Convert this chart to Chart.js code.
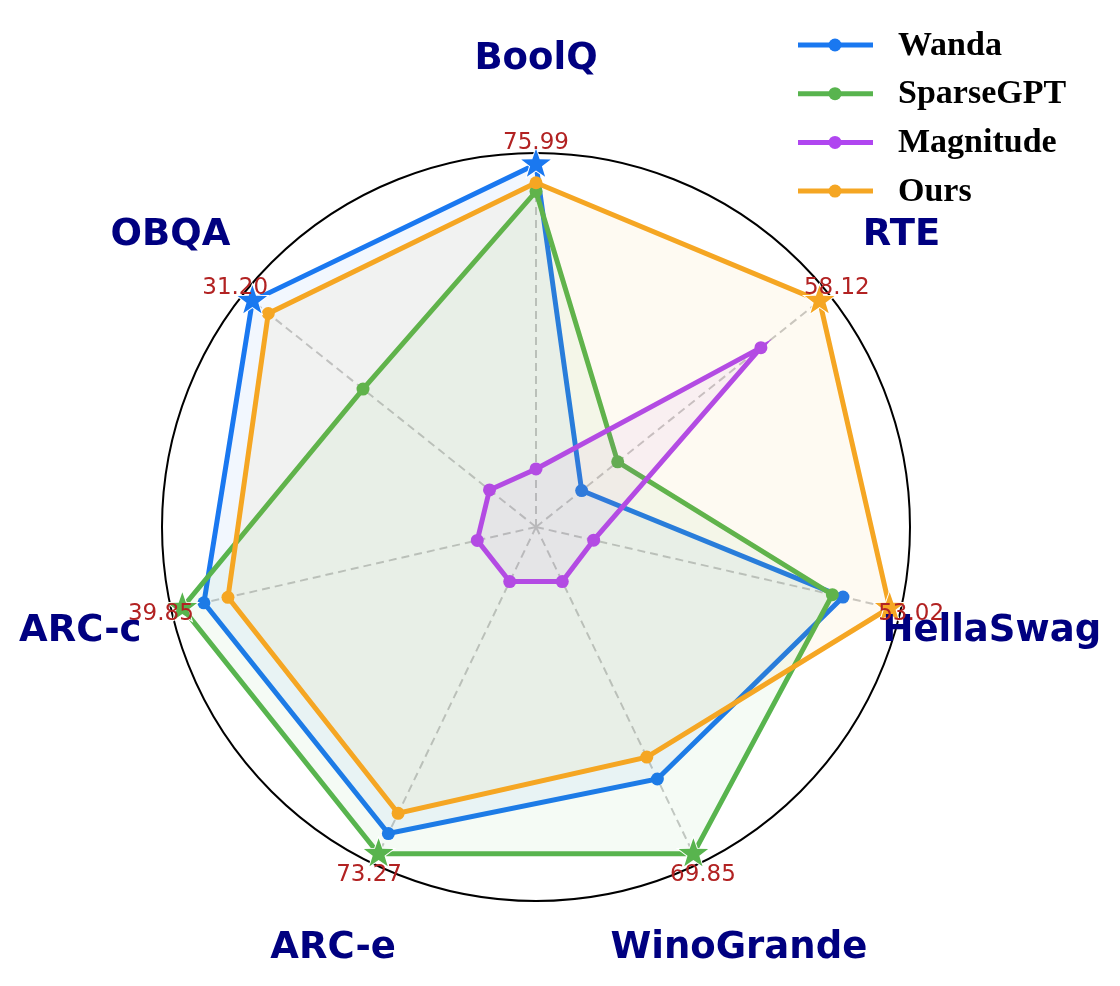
<!DOCTYPE html>
<html>
<head>
<meta charset="utf-8">
<script src="https://cdn.jsdelivr.net/npm/chart.js@4.4.0/dist/chart.umd.min.js"></script>
<style>
  html, body { margin: 0; padding: 0; background: #fff; }
  #wrap { width: 1120px; height: 986px; }
</style>
</head>
<body>
<div id="wrap"><canvas id="radarChart" width="1120" height="986"></canvas></div>
<script>
// axes, clockwise from the top
const categories = ['BoolQ', 'RTE', 'HellaSwag', 'WinoGrande', 'ARC-e', 'ARC-c', 'OBQA'];
// best score on each axis (printed next to the star)
const bestScores = ['75.99', '58.12', '53.02', '69.85', '73.27', '39.85', '31.20'];

// values normalised per axis (best = 1)
const wanda     = [1.000, 0.161, 0.868, 0.771, 0.938, 0.939, 1.000];
const sparsegpt = [0.925, 0.288, 0.838, 1.000, 1.000, 1.000, 0.610];
const magnitude = [0.160, 0.793, 0.163, 0.167, 0.167, 0.166, 0.164];
const ours      = [0.949, 1.000, 1.000, 0.704, 0.876, 0.871, 0.944];

const seriesNames  = ['Wanda', 'SparseGPT', 'Magnitude', 'Ours'];
const seriesValues = [wanda, sparsegpt, magnitude, ours];
const seriesColors = ['#1a78f0', '#58b44e', '#b046f0', '#f5a623'];

const rMax = 1.031;

function withAlpha(hex, a) {
  const n = parseInt(hex.slice(1), 16);
  return 'rgba(' + (n >> 16) + ',' + ((n >> 8) & 255) + ',' + (n & 255) + ',' + a + ')';
}

function isBest(ds, i) {
  const v = seriesValues[ds][i];
  return seriesValues.every(s => s[i] <= v);
}

function drawStar(ctx, x, y, R, color) {
  const r = R * 0.4;
  ctx.beginPath();
  for (let k = 0; k < 10; k++) {
    const rad = k % 2 === 0 ? R : r;
    const a = -Math.PI / 2 + k * Math.PI / 5;
    const px = x + rad * Math.cos(a), py = y + rad * Math.sin(a);
    if (k === 0) ctx.moveTo(px, py); else ctx.lineTo(px, py);
  }
  ctx.closePath();
  ctx.lineWidth = 2;
  ctx.strokeStyle = '#ffffff';
  ctx.stroke();
  ctx.fillStyle = color;
  ctx.fill();
}

// dashed spokes from the centre to the best value
const spokes = {
  id: 'spokes',
  beforeDatasetsDraw(chart) {
    const s = chart.scales.r, ctx = chart.ctx;
    ctx.save();
    ctx.strokeStyle = '#c8c8c8';
    ctx.lineWidth = 2;
    ctx.setLineDash([8, 5]);
    categories.forEach((c, i) => {
      const p = s.getPointPosition(i, s.getDistanceFromCenterForValue(1));
      ctx.beginPath();
      ctx.moveTo(s.xCenter, s.yCenter);
      ctx.lineTo(p.x, p.y);
      ctx.stroke();
    });
    ctx.restore();
  }
};

// stars on the best point of each axis
const stars = {
  id: 'stars',
  afterDatasetsDraw(chart) {
    const ctx = chart.ctx;
    ctx.save();
    seriesValues.forEach((vals, ds) => {
      const meta = chart.getDatasetMeta(ds);
      vals.forEach((v, i) => {
        if (isBest(ds, i)) {
          const pt = meta.data[i];
          drawStar(ctx, pt.x, pt.y, 15.5, seriesColors[ds]);
        }
      });
    });
    ctx.restore();
  }
};

// axis names, best scores and legend
const texts = {
  id: 'texts',
  afterDraw(chart) {
    const s = chart.scales.r, ctx = chart.ctx;
    ctx.save();
    ctx.textAlign = 'center';
    ctx.textBaseline = 'middle';
    categories.forEach((c, i) => {
      const p = s.getPointPosition(i, s.drawingArea * 1.25);
      ctx.font = 'bold 37px "DejaVu Sans"';
      ctx.fillStyle = '#000080';
      ctx.fillText(c, p.x, p.y);
      const q = s.getPointPosition(i, s.getDistanceFromCenterForValue(1) + 22);
      ctx.font = '23px "DejaVu Sans"';
      ctx.fillStyle = '#b22222';
      ctx.fillText(bestScores[i], q.x, q.y + 1);
    });

    ctx.textAlign = 'left';
    seriesNames.forEach((name, k) => {
      const y = 45 + k * 48.7;
      ctx.strokeStyle = seriesColors[k];
      ctx.lineWidth = 5;
      ctx.setLineDash([]);
      ctx.beginPath();
      ctx.moveTo(798, y);
      ctx.lineTo(873, y);
      ctx.stroke();
      ctx.beginPath();
      ctx.arc(835, y, 6.5, 0, Math.PI * 2);
      ctx.fillStyle = seriesColors[k];
      ctx.fill();
      ctx.font = 'bold 34px "Liberation Serif"';
      ctx.fillStyle = '#000';
      ctx.fillText(name, 898, y + 1);
    });
    ctx.restore();
  }
};

const ctx = document.getElementById('radarChart').getContext('2d');
const radarChart = new Chart(ctx, {
  type: 'radar',
  data: {
    labels: categories,
    datasets: seriesNames.map((name, k) => ({
      label: name,
      data: seriesValues[k],
      borderColor: seriesColors[k],
      backgroundColor: withAlpha(seriesColors[k], 0.06),
      fill: true,
      borderWidth: 5,
      pointRadius: c => isBest(c.datasetIndex, c.dataIndex) ? 0 : 6.5,
      pointBackgroundColor: seriesColors[k],
      pointBorderWidth: 0,
      order: 4 - k
    }))
  },
  options: {
    responsive: false,
    devicePixelRatio: 1,
    animation: false,
    layout: { padding: { left: 162, right: 210, top: 153, bottom: 85 } },
    plugins: {
      legend: { display: false },
      tooltip: { enabled: false }
    },
    elements: { line: { tension: 0 } },
    scales: {
      r: {
        min: 0,
        max: rMax,
        afterBuildTicks: sc => { sc.ticks = [{ value: 0 }, { value: rMax }]; },
        ticks: { display: false },
        pointLabels: { display: false },
        angleLines: { display: false },
        grid: { circular: true, color: '#000', lineWidth: 2 }
      }
    }
  },
  plugins: [spokes, stars, texts]
});
</script>
</body>
</html>
